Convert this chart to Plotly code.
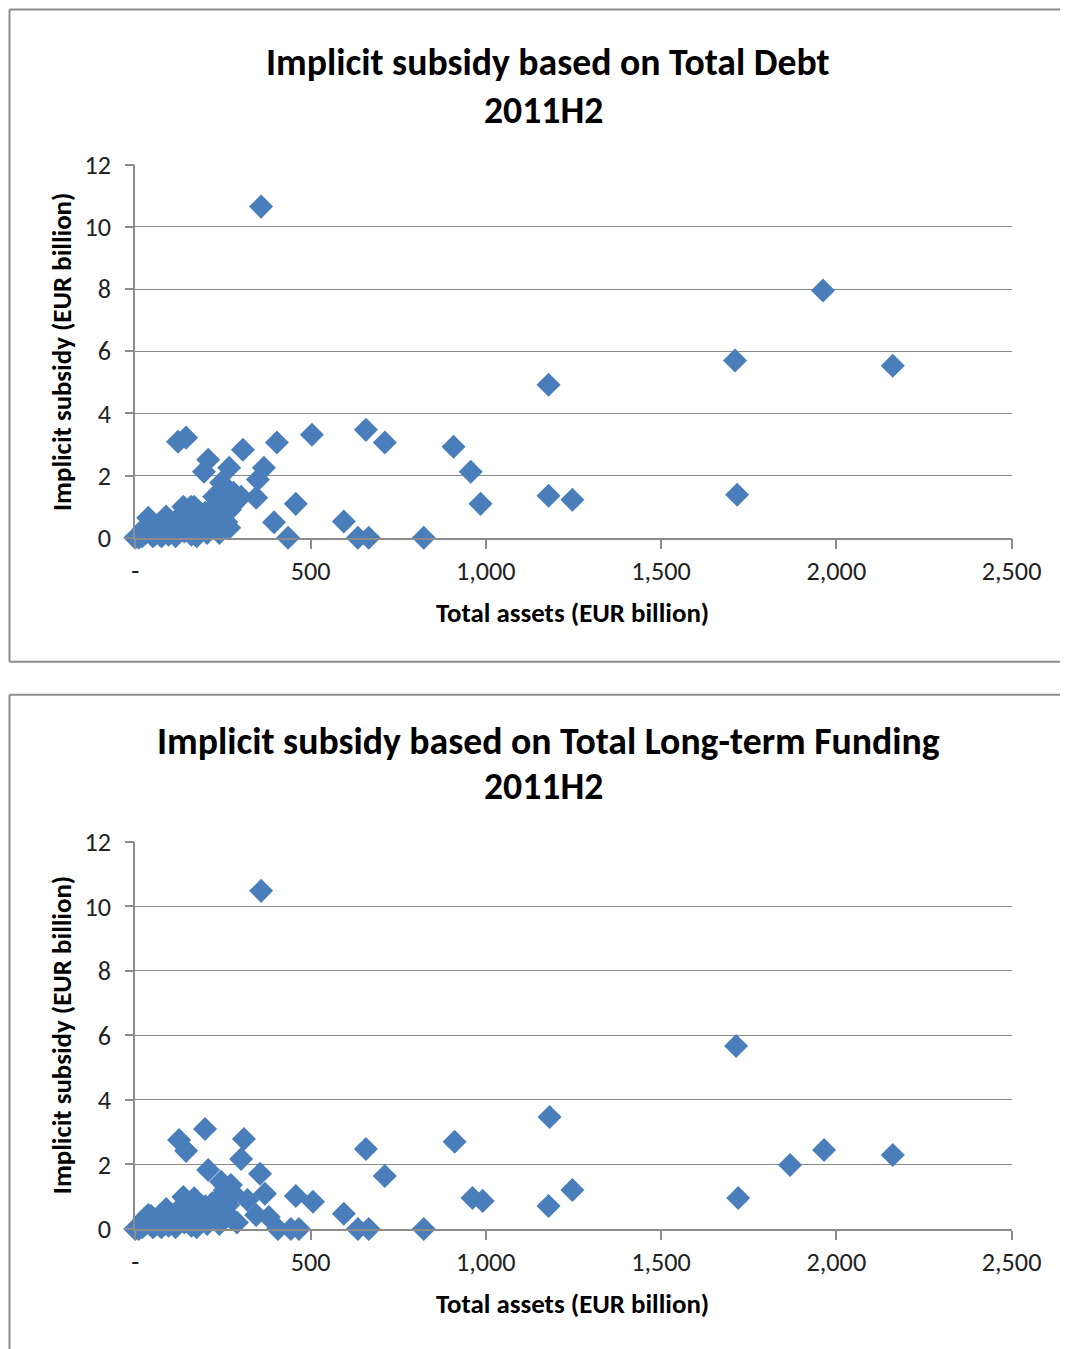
import plotly.graph_objects as go

W, H = 1068, 1349
# measured page -> screenshot mapping of the viewer (scale and offset)
SX, SY = 0.970, 0.976
OX, OY = 10.5, 24.4

# ---------------- data ----------------
debt_assets = [359, 1962, 1711, 2161, 1179, 908, 957, 985, 1179, 1247, 1717, 823,
               658, 712, 504, 595, 635, 666, 436, 458, 396, 404, 307, 367, 350,
               345, 302, 225, 245, 268, 196, 208, 122, 145, 159, 137, 37, 268,
               255, 235, 280, 220, 200, 180, 170, 150, 130, 110, 100, 90, 80, 70,
               60, 50, 45, 30, 20, 10, 0, 25, 55, 75, 95, 115, 120, 140, 160, 165,
               175, 185, 190, 205, 215, 230, 240, 250, 260, 270, 278, 88, 168]
debt_subsidy = [10.65, 7.95, 5.70, 5.53, 4.92, 2.93, 2.12, 1.09, 1.35, 1.22, 1.38, 0.0,
                3.47, 3.06, 3.31, 0.52, 0.0, 0.0, 0.0, 1.09, 0.50, 3.06, 2.83, 2.25, 1.87,
                1.29, 1.32, 1.32, 1.77, 2.25, 2.12, 2.51, 3.09, 3.22, 1.00, 1.00, 0.64, 0.32,
                1.55, 1.10, 1.45, 0.90, 0.80, 0.70, 0.90, 0.60, 0.50, 0.30, 0.45, 0.20, 0.35, 0.10,
                0.25, 0.05, 0.40, 0.15, 0.05, 0.0, 0.0, 0.30, 0.10, 0.05, 0.10, 0.05, 0.60, 0.20,
                0.10, 0.40, 0.05, 0.30, 0.55, 0.15, 0.50, 0.60, 0.15, 0.75, 0.50, 0.90, 1.05, 0.68, 1.00]

ltf_assets = [359, 1714, 1182, 911, 658, 712, 595, 635, 666, 823, 962, 991, 1179,
              1247, 1720, 1868, 1965, 2161, 125, 145, 199, 310, 302, 208, 356, 370,
              458, 507, 345, 381, 407, 444, 467, 245, 273, 265, 273, 137, 37,
              255, 235, 280, 220, 200, 180, 170, 150, 130, 110, 100, 90, 80, 70,
              60, 50, 45, 30, 20, 10, 0, 25, 55, 75, 95, 115, 120, 140, 160, 165,
              175, 185, 190, 205, 215, 230, 240, 250, 260, 290, 320, 88, 168]
ltf_subsidy = [10.48, 5.67, 3.47, 2.70, 2.48, 1.64, 0.47, 0.0, 0.0, 0.0, 0.96, 0.87, 0.71,
               1.21, 0.96, 1.98, 2.45, 2.29, 2.76, 2.42, 3.10, 2.79, 2.17, 1.83, 1.71, 1.09,
               1.02, 0.84, 0.43, 0.37, 0.0, 0.0, 0.0, 1.46, 1.36, 0.74, 0.34, 0.99, 0.43,
               1.20, 0.90, 1.10, 0.80, 0.70, 0.50, 0.80, 0.60, 0.45, 0.30, 0.40, 0.20, 0.35, 0.10,
               0.25, 0.05, 0.40, 0.15, 0.05, 0.0, 0.0, 0.30, 0.10, 0.05, 0.10, 0.05, 0.55, 0.20,
               0.10, 0.35, 0.05, 0.30, 0.50, 0.15, 0.45, 0.55, 0.15, 0.65, 0.45, 0.20, 0.90, 0.62, 0.95]

x_tickvals = [0, 500, 1000, 1500, 2000, 2500]
x_ticktext = ["-", "500", "1,000", "1,500", "2,000", "2,500"]
y_tickvals = [0, 2, 4, 6, 8, 10, 12]

titles = ["Implicit subsidy based on Total Debt", "Implicit subsidy based on Total Long-term Funding"]
subtitle = "2011H2"
x_title = "Total assets (EUR billion)"
y_title = "Implicit subsidy (EUR billion)"

# ---------------- layout helpers (target screen pixel -> paper) ----------------
def px(x):
    return ((x - OX) / SX) / W

def py(y):
    return 1 - ((y - OY) / SY) / H

K = 1 / ((SX + SY) / 2)   # size compensation
FONT = "Carlito, Calibri, Lato, sans-serif"
BLUE = "#4A7EBB"
GRID = "#8C8C8C"

fig = go.Figure()
for xs, ys, xa, ya in [(debt_assets, debt_subsidy, "x", "y"), (ltf_assets, ltf_subsidy, "x2", "y2")]:
    fig.add_trace(go.Scatter(x=xs, y=ys, mode="markers",
                             marker=dict(symbol="diamond", size=18 * K, color=BLUE, line=dict(width=0)),
                             cliponaxis=False, xaxis=xa, yaxis=ya, showlegend=False))

xdom = [px(134), px(1012)]
common_x = dict(range=[0, 2500], tickvals=x_tickvals, ticktext=x_ticktext, showgrid=False,
                showline=True, linecolor=GRID, linewidth=1.5, ticks="outside", ticklen=9 * K,
                tickcolor=GRID, tickwidth=1.5, tickfont=dict(family=FONT, size=25.5 * K, color="#222"),
                ticklabelstandoff=0, zeroline=False, fixedrange=True)
common_y = dict(range=[0, 12], tickvals=y_tickvals, showgrid=True, gridcolor=GRID, gridwidth=1.2,
                showline=True, linecolor=GRID, linewidth=1.5, ticks="outside", ticklen=8 * K,
                tickcolor=GRID, tickwidth=1.5, tickfont=dict(family=FONT, size=25.5 * K, color="#222"),
                ticklabelstandoff=9, zeroline=False, fixedrange=True)

fig.update_layout(
    width=W, height=H, margin=dict(l=0, r=0, t=0, b=0),
    paper_bgcolor="white", plot_bgcolor="white",
    xaxis=dict(domain=xdom, anchor="y", **common_x),
    yaxis=dict(domain=[py(538), py(165)], anchor="x", **common_y),
    xaxis2=dict(domain=xdom, anchor="y2", **common_x),
    yaxis2=dict(domain=[py(1229), py(842)], anchor="x2", **common_y),
)

ann = []
def text(x, y, s, size, angle=0):
    ann.append(dict(x=px(x), y=py(y), xref="paper", yref="paper", text=s, showarrow=False,
                    xanchor="center", yanchor="middle", textangle=angle,
                    font=dict(family=FONT, size=size * K, color="black")))

text(548, 62, "<b>%s</b>" % titles[0], 36.7)
text(543, 110, "<b>%s</b>" % subtitle, 36.7)
text(572, 613, "<b>%s</b>" % x_title, 26.2)
text(60, 352, "<b>%s</b>" % y_title, 26.2, -90)

text(548, 741, "<b>%s</b>" % titles[1], 36.7)
text(543, 786, "<b>%s</b>" % subtitle, 36.7)
text(572, 1304, "<b>%s</b>" % x_title, 26.2)
text(60, 1035, "<b>%s</b>" % y_title, 26.2, -90)

fig.update_layout(annotations=ann)

FRAME = dict(color="#8C8C8C", width=2)
shapes = [
    # top chart frame (top, left, bottom edges; right edge runs off the window)
    dict(type="line", xref="paper", yref="paper", x0=px(8), x1=px(1100), y0=py(10), y1=py(10), line=FRAME),
    dict(type="line", xref="paper", yref="paper", x0=px(8), x1=px(8), y0=py(662), y1=py(10), line=FRAME),
    dict(type="line", xref="paper", yref="paper", x0=px(8), x1=px(1100), y0=py(662), y1=py(662), line=FRAME),
    # bottom chart frame
    dict(type="line", xref="paper", yref="paper", x0=px(8), x1=px(1100), y0=py(695), y1=py(695), line=FRAME),
    dict(type="line", xref="paper", yref="paper", x0=px(8), x1=px(8), y0=py(1400), y1=py(695), line=FRAME),
]
fig.update_layout(shapes=shapes)

fig.write_html("out.html")
